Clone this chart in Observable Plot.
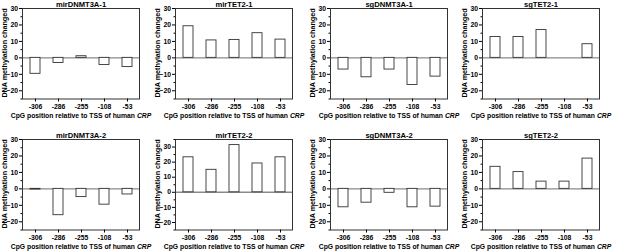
<!DOCTYPE html>
<html>
<head>
<meta charset="utf-8">
<script src="https://cdn.jsdelivr.net/npm/d3@7"></script>
<script src="https://cdn.jsdelivr.net/npm/@observablehq/plot@0.6"></script>
<style>
  html, body { margin: 0; padding: 0; background: #fff; }
  #fig { position: relative; width: 617px; height: 252px; overflow: hidden; background: #fff; }
  .panel { position: absolute; width: 154px; height: 121px; }
  .panel svg { overflow: visible; display: block; }
  .ylab { position: absolute; left: 5px; top: 53.25px; transform: translate(-50%, -50%) rotate(-90deg);
          white-space: nowrap; font: bold 7.2px 'Liberation Sans', Arial, sans-serif; color: #000; line-height: 1; }
</style>
</head>
<body>
<div id="fig"></div>
<script>
// ---- data ----
const positions = ["-306", "-286", "-255", "-108", "-53"];
const panelNames = ["mirDNMT3A-1", "mirTET2-1", "sgDNMT3A-1", "sgTET2-1",
                    "mirDNMT3A-2", "mirTET2-2", "sgDNMT3A-2", "sgTET2-2"];
const mirDNMT3A_1 = [-9.7, -3.1, 1.0, -4.3, -5.6];
const mirTET2_1   = [19.2, 10.6, 10.9, 15.0, 11.1];
const sgDNMT3A_1  = [-7.1, -11.8, -7.1, -16.5, -11.4];
const sgTET2_1    = [12.7, 12.7, 16.9, null, 8.3];
const mirDNMT3A_2 = [-0.4, -16.0, -5.0, -9.6, -3.4];
const mirTET2_2   = [23.2, 14.9, 31.3, 19.1, 23.2];
const sgDNMT3A_2  = [-11.2, -8.4, -2.4, -11.2, -10.8];
const sgTET2_2    = [13.4, 10.2, 4.4, 4.4, 18.4];
const panelValues = [mirDNMT3A_1, mirTET2_1, sgDNMT3A_1, sgTET2_1,
                     mirDNMT3A_2, mirTET2_2, sgDNMT3A_2, sgTET2_2];
const yMax = [30, 30, 30, 30, 30, 35, 30, 30];
const yMin = -25;
const yTicks = [-20, -10, 0, 10, 20, 30];
const yLabel = "DNA methylation changed";
const xLabelMain = "CpG position relative to TSS of human ";
const xLabelGene = "CRP";

// ---- layout ----
const colLeft = [0, 153, 307.5, 460];
const rowTop = [0, 131];
const fig = document.getElementById("fig");

panelNames.forEach((name, i) => {
  const vals = panelValues[i];
  const data = positions.map((p, j) => ({pos: p, v: vals[j]})).filter(d => d.v != null);
  const minor = d3.range(yMin, yMax[i] + 0.01, 5).filter(v => !yTicks.includes(v));
  const fullX = xLabelMain + xLabelGene;
  const svg = Plot.plot({
    width: 154,
    height: 121,
    marginLeft: 22,
    marginRight: 15,
    marginTop: 8,
    marginBottom: 22.5,
    style: {fontFamily: "'Liberation Sans', Arial, sans-serif", fontWeight: "bold", fontSize: "6.8px", background: "transparent", color: "#000"},
    x: {type: "band", domain: positions, paddingInner: 0.58, paddingOuter: 0.29},
    y: {domain: [yMin, yMax[i]]},
    marks: [
      Plot.ruleY([0], {stroke: "#8a8a8a", strokeWidth: 1.4}),
      Plot.barY(data, {x: "pos", y: "v", fill: "white", stroke: "#333", strokeWidth: 0.9}),
      Plot.frame({stroke: "#333", strokeWidth: 1}),
      Plot.axisX({tickSize: 3, tickPadding: 2, label: null}),
      Plot.axisY({ticks: yTicks, tickSize: 3, tickPadding: 1.5, label: null}),
      Plot.axisY({ticks: minor, tickSize: 1.5, text: null, label: null}),
      Plot.text([fullX], {frameAnchor: "bottom", dy: 18.5, fontSize: 6.8, fontWeight: "bold"}),
      Plot.text([name], {frameAnchor: "top", dy: -1.5, lineAnchor: "bottom", fontSize: 7.6, fontWeight: "bold"})
    ]
  });
  d3.select(svg).selectAll("text").filter(function() { return this.textContent === fullX; }).each(function() {
    const t = d3.select(this);
    t.text(null);
    t.append("tspan").text(xLabelMain);
    t.append("tspan").attr("font-style", "italic").text(xLabelGene);
  });
  const div = document.createElement("div");
  div.className = "panel";
  div.style.left = colLeft[i % 4] + "px";
  div.style.top = rowTop[Math.floor(i / 4)] + "px";
  div.appendChild(svg);
  const yl = document.createElement("div");
  yl.className = "ylab";
  yl.textContent = yLabel;
  div.appendChild(yl);
  fig.appendChild(div);
});
</script>
</body>
</html>
